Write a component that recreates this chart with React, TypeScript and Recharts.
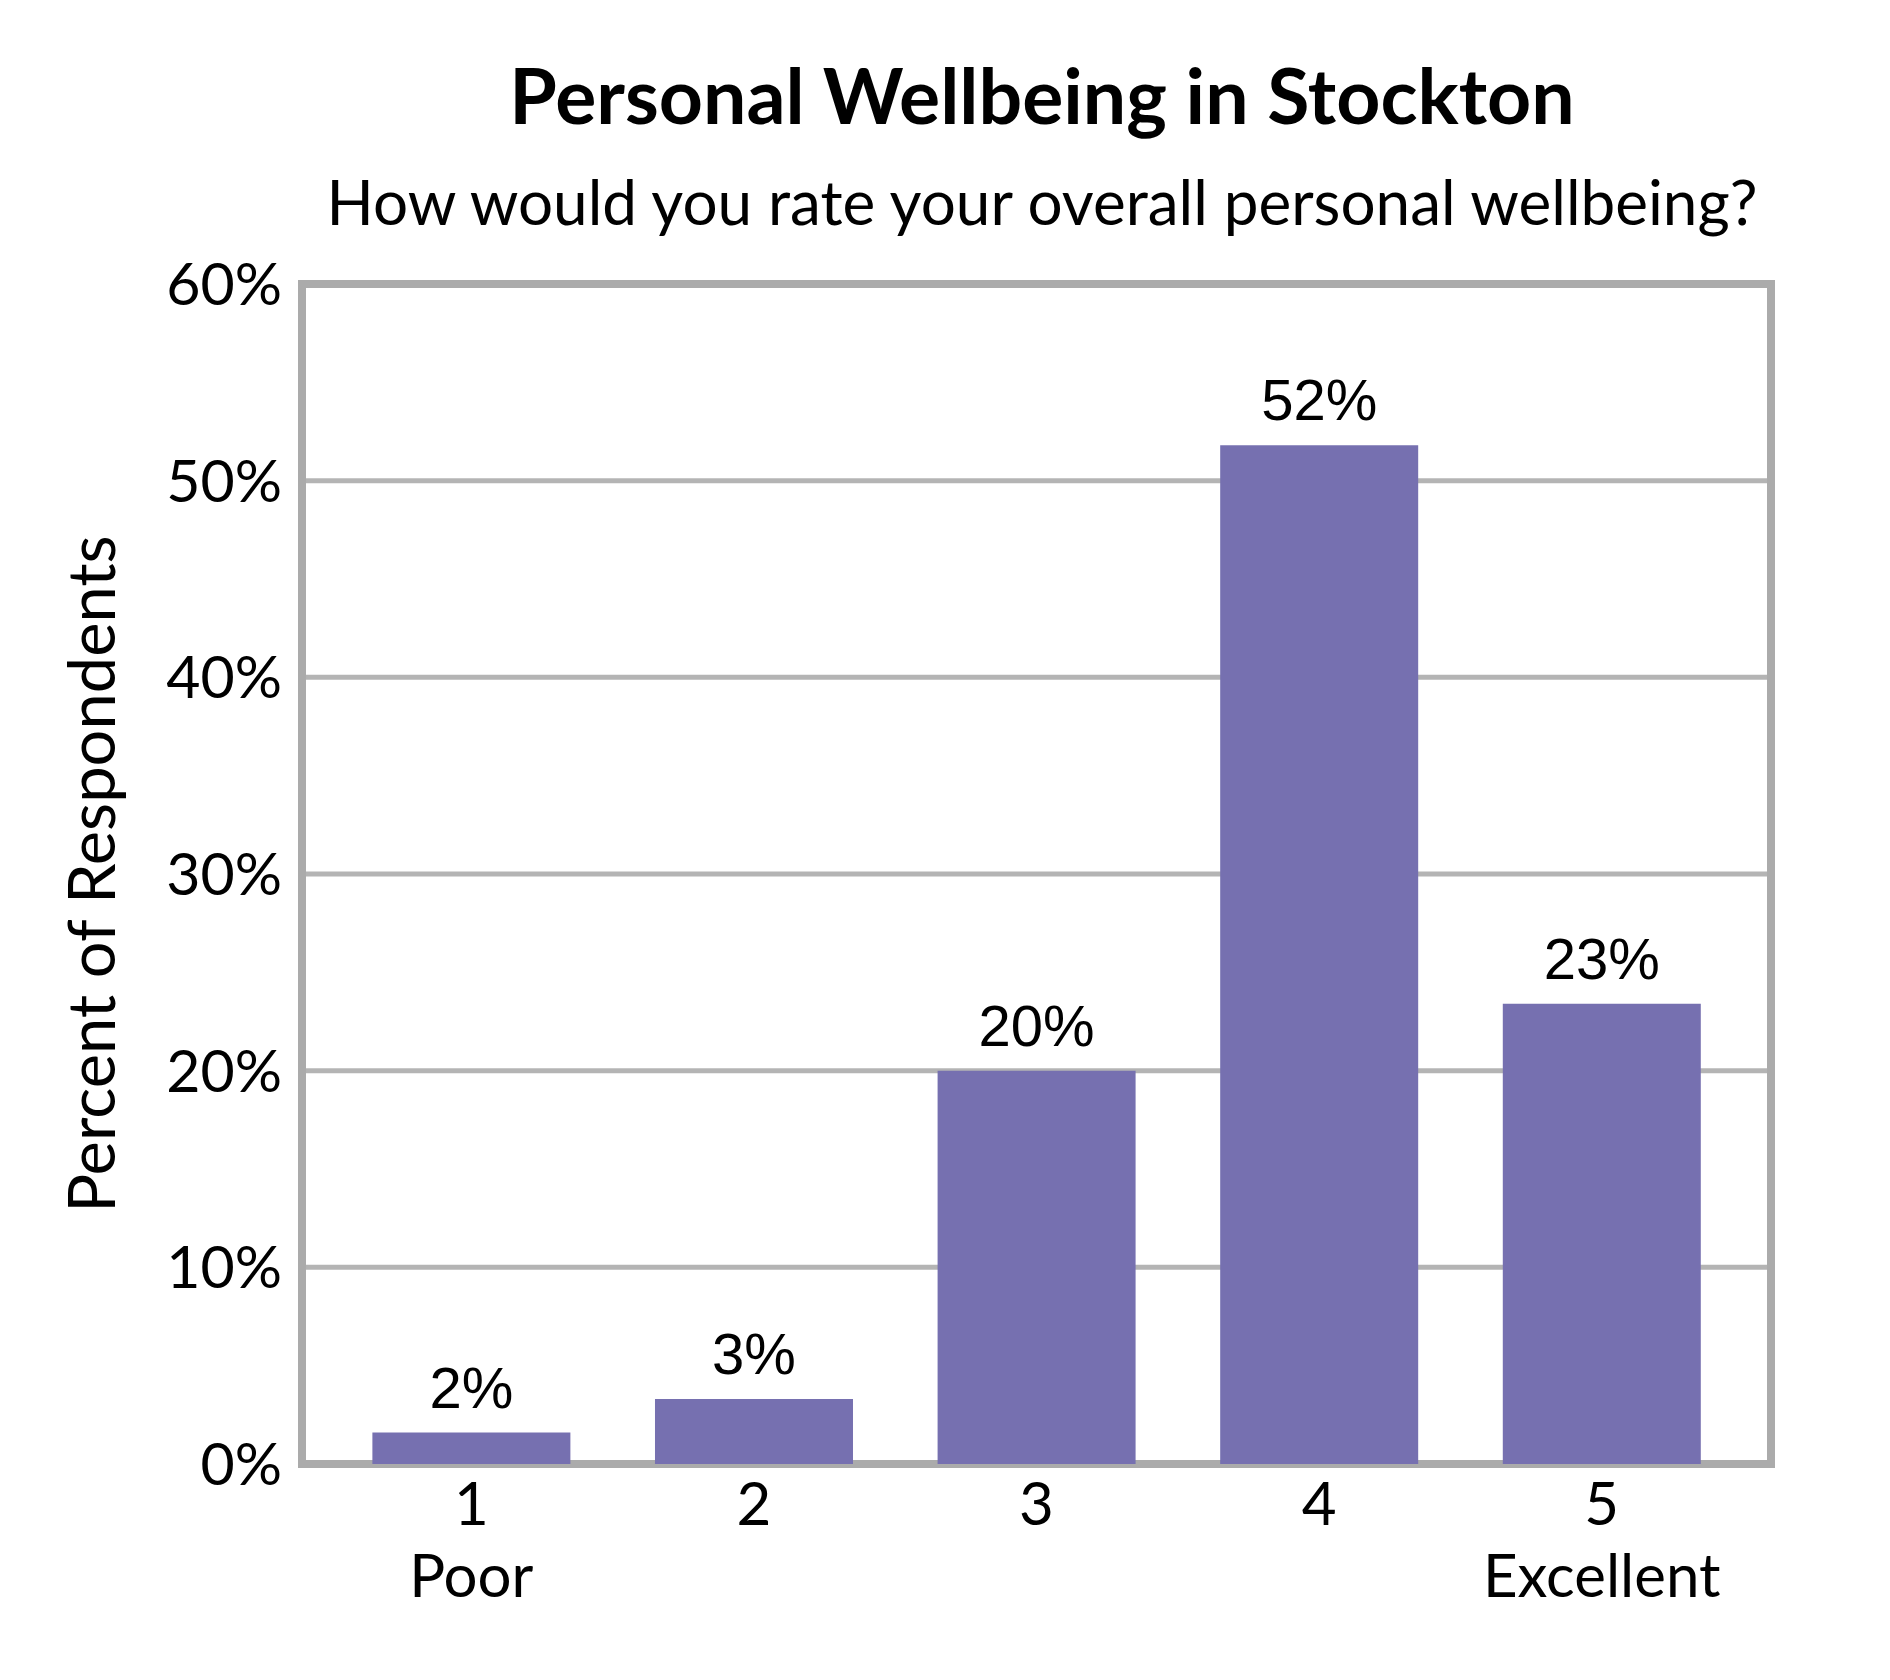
import { Bar, BarChart, CartesianGrid, LabelList, XAxis, YAxis } from "recharts";

const CATEGORIES = ["1", "2", "3", "4", "5"];
const SUB_LABELS = ["Poor", "", "", "", "Excellent"];
const VALUES = [1.6, 3.3, 20.0, 51.8, 23.4];
const Y_TICKS = [0, 10, 20, 30, 40, 50, 60];

const TITLE = "Personal Wellbeing in Stockton";
const SUBTITLE = "How would you rate your overall personal wellbeing?";
const Y_LABEL = "Percent of Respondents";

const BAR_COLOR = "#7670B0";
const FRAME = "#ababab";
const GRID = "#b4b4b4";
const FONT = "Lato, 'Open Sans', sans-serif";

const data = CATEGORIES.map((c, i) => ({ cat: c, sub: SUB_LABELS[i], value: VALUES[i] }));

function XTick(props: any) {
  const { x, y, payload, index } = props;
  const sub = SUB_LABELS[index] ?? "";
  return (
    <g>
      <text x={x} y={y + 61} textAnchor="middle" fontFamily={FONT} fontSize={60} fill="#000">
        {payload.value}
      </text>
      {sub && (
        <text x={x} y={y + 133} textAnchor="middle" fontFamily={FONT} fontSize={60} fill="#000">
          {sub}
        </text>
      )}
    </g>
  );
}

// plot frame: square-capped lines along the plot edges
function frameLine(p: any) {
  return (
    <line
      key={p.key}
      x1={p.x1}
      y1={p.y1}
      x2={p.x2}
      y2={p.y2}
      stroke={FRAME}
      strokeWidth={8}
      strokeLinecap="square"
    />
  );
}

export default function App() {
  return (
    <div style={{ position: "absolute", left: 0, top: 0, width: 1890, height: 1680, background: "#fff" }}>
      <BarChart
        width={1890}
        height={1680}
        data={data}
        margin={{ top: 284, right: 119, bottom: 66, left: 152 }}
        barCategoryGap="15%"
      >
        <CartesianGrid vertical={false} stroke={GRID} strokeWidth={5} />
        <CartesianGrid
          horizontal={frameLine}
          vertical={frameLine}
          horizontalCoordinatesGenerator={({ offset }: any) => [offset.top, offset.top + offset.height]}
          verticalCoordinatesGenerator={({ offset }: any) => [offset.left, offset.left + offset.width]}
        />
        <XAxis
          dataKey="cat"
          height={150}
          padding={{ left: 28, right: 28 }}
          axisLine={false}
          tickLine={false}
          tickSize={0}
          tickMargin={0}
          tick={<XTick />}
          interval={0}
        />
        <YAxis
          width={150}
          domain={[0, 60]}
          ticks={Y_TICKS}
          interval={0}
          axisLine={false}
          tickLine={false}
          tickSize={0}
          tickMargin={20}
          tickFormatter={(v: number) => `${v}%`}
          tick={{ fontFamily: FONT, fontSize: 59, fill: "#000" }}
        />
        <Bar dataKey="value" fill={BAR_COLOR} isAnimationActive={false}>
          <LabelList
            dataKey="value"
            position="top"
            offset={25}
            formatter={(v: any) => `${Math.round(Number(v))}%`}
            style={{ fontFamily: "'Liberation Sans', Arial, sans-serif", fontSize: 58, fill: "#000" }}
          />
        </Bar>
      </BarChart>
      <svg
        width={1890}
        height={1680}
        style={{ position: "absolute", left: 0, top: 0, pointerEvents: "none" }}
      >
        <text x={1042} y={124} textAnchor="middle" fontFamily={FONT} fontWeight={700} fontSize={77} fill="#000">
          {TITLE}
        </text>
        <text x={1042} y={225} textAnchor="middle" fontFamily={FONT} fontSize={62} fill="#000">
          {SUBTITLE}
        </text>
        <text
          x={0}
          y={0}
          transform="translate(115, 874) rotate(-90)"
          textAnchor="middle"
          fontFamily={FONT}
          fontSize={65}
          fill="#000"
        >
          {Y_LABEL}
        </text>
      </svg>
    </div>
  );
}
